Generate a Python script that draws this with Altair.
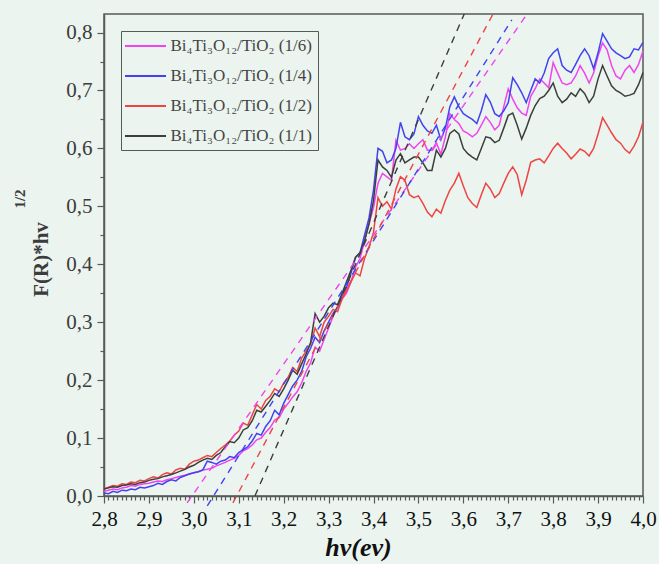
import altair as alt
import numpy as np
import pandas as pd

# ---------------- data ----------------
series_names = [
    "Bi₄Ti₃O₁₂/TiO₂ (1/6)",
    "Bi₄Ti₃O₁₂/TiO₂ (1/4)",
    "Bi₄Ti₃O₁₂/TiO₂ (1/2)",
    "Bi₄Ti₃O₁₂/TiO₂ (1/1)",
]
series_colors = ["#f044f0", "#4242f2", "#ee4444", "#3a3f3c"]

# photon energy grid (eV), 2.80 ... 4.00 in 0.01 steps
hv = [round(2.80 + 0.01 * i, 2) for i in range(121)]

y_16 = [
    0.008, 0.010, 0.012, 0.011, 0.014, 0.015, 0.018, 0.017, 0.020, 0.021, 0.022,
    0.024, 0.026, 0.025, 0.028, 0.030, 0.032, 0.034, 0.036, 0.038, 0.040,
    0.042, 0.045, 0.046, 0.048, 0.052, 0.055, 0.058, 0.062, 0.065, 0.070,
    0.078, 0.082, 0.088, 0.097, 0.100, 0.110, 0.118, 0.131, 0.135, 0.150,
    0.160, 0.171, 0.180, 0.195, 0.215, 0.230, 0.257, 0.250, 0.270, 0.290,
    0.310, 0.326, 0.340, 0.350, 0.370, 0.395, 0.410, 0.440, 0.470, 0.498,
    0.540, 0.557, 0.551, 0.545, 0.614, 0.597, 0.600, 0.608, 0.600, 0.608,
    0.615, 0.597, 0.597, 0.610, 0.590, 0.620, 0.660, 0.650, 0.643, 0.630,
    0.626, 0.620, 0.626, 0.640, 0.655, 0.645, 0.632, 0.640, 0.672, 0.703,
    0.685, 0.670, 0.661, 0.657, 0.690, 0.703, 0.720, 0.713, 0.705, 0.748,
    0.730, 0.713, 0.710, 0.713, 0.725, 0.743, 0.730, 0.713, 0.730, 0.760,
    0.782, 0.770, 0.743, 0.725, 0.720, 0.735, 0.743, 0.731, 0.745, 0.768,
]
y_14 = [
    0.005, 0.004, 0.008, 0.006, 0.010, 0.009, 0.012, 0.011, 0.015, 0.014, 0.016,
    0.018, 0.022, 0.020, 0.025, 0.028, 0.026, 0.032, 0.035, 0.038, 0.040,
    0.042, 0.045, 0.060, 0.058, 0.055, 0.060, 0.062, 0.068, 0.066, 0.075,
    0.080, 0.085, 0.095, 0.108, 0.105, 0.120, 0.130, 0.148, 0.140, 0.160,
    0.175, 0.190, 0.200, 0.215, 0.240, 0.255, 0.274, 0.265, 0.285, 0.300,
    0.315, 0.326, 0.345, 0.360, 0.385, 0.412, 0.420, 0.450, 0.480, 0.528,
    0.600, 0.595, 0.575, 0.580, 0.600, 0.645, 0.620, 0.615, 0.625, 0.655,
    0.640, 0.630, 0.626, 0.640, 0.615, 0.635, 0.672, 0.689, 0.672, 0.660,
    0.655, 0.650, 0.643, 0.665, 0.693, 0.680, 0.660, 0.655, 0.665, 0.679,
    0.722, 0.710, 0.696, 0.679, 0.700, 0.720, 0.713, 0.730, 0.755, 0.765,
    0.772, 0.743, 0.735, 0.731, 0.745, 0.760, 0.772, 0.760, 0.738, 0.765,
    0.798, 0.785, 0.772, 0.765, 0.760, 0.755, 0.758, 0.772, 0.770, 0.783,
]
y_12 = [
    0.012, 0.015, 0.018, 0.017, 0.021, 0.020, 0.024, 0.023, 0.027, 0.026, 0.030,
    0.033, 0.031, 0.037, 0.040, 0.038, 0.045, 0.048, 0.046, 0.055, 0.060,
    0.062, 0.066, 0.070, 0.068, 0.075, 0.082, 0.088, 0.095, 0.105, 0.112,
    0.126, 0.122, 0.140, 0.158, 0.150, 0.165, 0.172, 0.185, 0.180, 0.195,
    0.205, 0.222, 0.215, 0.238, 0.250, 0.262, 0.290, 0.275, 0.300, 0.310,
    0.322, 0.318, 0.340, 0.355, 0.370, 0.385, 0.380, 0.410, 0.430, 0.455,
    0.515, 0.500, 0.508, 0.495, 0.530, 0.551, 0.545, 0.520, 0.515, 0.518,
    0.505, 0.490, 0.482, 0.495, 0.488, 0.510, 0.528, 0.540, 0.557, 0.535,
    0.515, 0.505, 0.498, 0.520, 0.540, 0.530, 0.515, 0.522, 0.540, 0.557,
    0.568, 0.555, 0.520, 0.545, 0.576, 0.580, 0.582, 0.575, 0.587, 0.600,
    0.609, 0.600, 0.592, 0.582, 0.590, 0.599, 0.595, 0.587, 0.600, 0.625,
    0.653, 0.640, 0.627, 0.615, 0.609, 0.598, 0.592, 0.604, 0.620, 0.645,
]
y_11 = [
    0.012, 0.014, 0.016, 0.015, 0.018, 0.019, 0.021, 0.020, 0.023, 0.024, 0.027,
    0.029, 0.030, 0.033, 0.035, 0.037, 0.040, 0.043, 0.046, 0.050, 0.053,
    0.058, 0.062, 0.065, 0.063, 0.070, 0.075, 0.085, 0.094, 0.092, 0.100,
    0.114, 0.118, 0.130, 0.148, 0.145, 0.155, 0.165, 0.177, 0.172, 0.185,
    0.200, 0.217, 0.210, 0.228, 0.245, 0.265, 0.315, 0.300, 0.310, 0.325,
    0.333, 0.330, 0.350, 0.370, 0.390, 0.412, 0.420, 0.440, 0.470, 0.510,
    0.580, 0.568, 0.562, 0.550, 0.580, 0.591, 0.575, 0.580, 0.585, 0.585,
    0.575, 0.562, 0.562, 0.597, 0.585, 0.600, 0.626, 0.632, 0.625, 0.600,
    0.591, 0.585, 0.580, 0.600, 0.620, 0.618, 0.610, 0.614, 0.635, 0.657,
    0.661, 0.640, 0.616, 0.635, 0.657, 0.674, 0.686, 0.690, 0.700, 0.713,
    0.690, 0.679, 0.685, 0.696, 0.690, 0.703, 0.695, 0.679, 0.690, 0.720,
    0.743, 0.725, 0.708, 0.700, 0.696, 0.690, 0.692, 0.695, 0.710, 0.731,
]
series_values = [y_16, y_14, y_12, y_11]

# tangent (Tauc) line end points: start x, start y, end x, end y
tan_x0 = [2.985, 3.030, 3.087, 3.136]
tan_y0 = [-0.012, -0.017, -0.012, 0.000]
tan_x1 = [3.742, 3.708, 3.666, 3.602]
tan_y1 = [0.832, 0.822, 0.832, 0.832]

superscript_text = ["1/2"]

# ---------------- tables ----------------
rows = []
for name, vals in zip(series_names, series_values):
    for x, y in zip(hv, vals):
        rows.append({"series": name, "hv": x, "F": y})
df = pd.DataFrame(rows)

trows = []
for name, a, b, c, d in zip(series_names, tan_x0, tan_y0, tan_x1, tan_y1):
    trows.append({"series": name, "hv": a, "F": b, "order": 0})
    trows.append({"series": name, "hv": c, "F": d, "order": 1})
tdf = pd.DataFrame(trows)

FONT = "Liberation Serif"
AXC = "#555b57"

x_ticks = [round(2.80 + 0.01 * i, 2) for i in range(121)]
y_ticks = [round(0.05 * i, 2) for i in range(17)]
major_test = "abs(datum.value*10 - round(datum.value*10)) < 0.01"
label_expr = ("abs(datum.value*10 - round(datum.value*10)) < 0.01 ? "
              "replace(format(datum.value, '.1f'), '.', ',') : ''")

x_scale = alt.Scale(domain=[2.8, 4.0], nice=False, zero=False)
y_scale = alt.Scale(domain=[0, 0.832], nice=False, zero=False)

legend = alt.Legend(
    title=None,
    orient="none",
    legendX=17,
    legendY=17,
    padding=6,
    strokeColor=AXC,
    fillColor="transparent",
    labelFont=FONT,
    labelFontSize=17,
    labelColor="#444444",
    labelOffset=16,
    symbolType="M-2.5625,0H2.5625",
    symbolSize=256,
    symbolOffset=9.5,
    symbolStrokeWidth=2,
    symbolDash=[1, 0],
    rowPadding=13,
    labelLimit=400,
)
color = alt.Color(
    "series:N",
    scale=alt.Scale(domain=series_names, range=series_colors),
    sort=series_names,
    legend=legend,
)

x_axis = alt.Axis(
    values=x_ticks,
    labelExpr=label_expr,
    tickSize={"condition": {"test": major_test, "value": 7}, "value": 4},
    labelOverlap=False,
    labelFlush=False,
    labelBound=False,
    labelFont=FONT,
    labelFontSize=21,
    labelColor="#111111",
    labelPadding=5,
    title="hv(ev)",
    titleFont=FONT,
    titleFontSize=26,
    titleFontWeight="bold",
    titleFontStyle="italic",
    titleColor="#111111",
    titleX=254,
    titleY=51,
    titleAlign="center",
    titleBaseline="middle",
    grid=False,
)
y_axis = alt.Axis(
    values=y_ticks,
    labelExpr=label_expr,
    tickSize={"condition": {"test": major_test, "value": 7}, "value": 4},
    labelOverlap=False,
    labelFlush=False,
    labelBound=False,
    labelFont=FONT,
    labelFontSize=21,
    labelColor="#3c3c3c",
    labelPadding=5,
    title="F(R)*hv",
    titleFont=FONT,
    titleFontSize=21,
    titleFontWeight="bold",
    titleColor="#3c3c3c",
    titleX=-63,
    titleY=245,
    titleAngle=270,
    titleAlign="center",
    titleBaseline="middle",
    grid=False,
)

lines = alt.Chart(df).mark_line(strokeWidth=1.5).encode(
    x=alt.X("hv:Q", scale=x_scale, axis=x_axis),
    y=alt.Y("F:Q", scale=y_scale, axis=y_axis),
    color=color,
    detail="series:N",
)

tangents = alt.Chart(tdf).mark_line(strokeWidth=1.4, strokeDash=[7, 6]).encode(
    x=alt.X("hv:Q", scale=x_scale, axis=x_axis),
    y=alt.Y("F:Q", scale=y_scale, axis=y_axis),
    color=color,
    detail="series:N",
    order="order:Q",
)

sup = alt.Chart(pd.DataFrame({"t": superscript_text})).mark_text(
    font=FONT, fontSize=15, fontWeight="bold", angle=270, align="center",
    baseline="middle", color="#3c3c3c",
).encode(x=alt.value(-84.5), y=alt.value(185), text="t:N")

chart = alt.layer(lines, tangents, sup).properties(
    width=539,
    height=482,
    autosize=alt.AutoSizeParams(type="none"),
    padding={"left": 104, "top": 14, "right": 16, "bottom": 68},
    background="#ebf4ee",
).configure_view(
    stroke=AXC, strokeWidth=1.5
).configure_axis(
    domainColor=AXC, domainWidth=1.5, tickColor=AXC, tickWidth=1.2
)

chart.save("out.html", embed_options={"renderer": "svg", "actions": False})
